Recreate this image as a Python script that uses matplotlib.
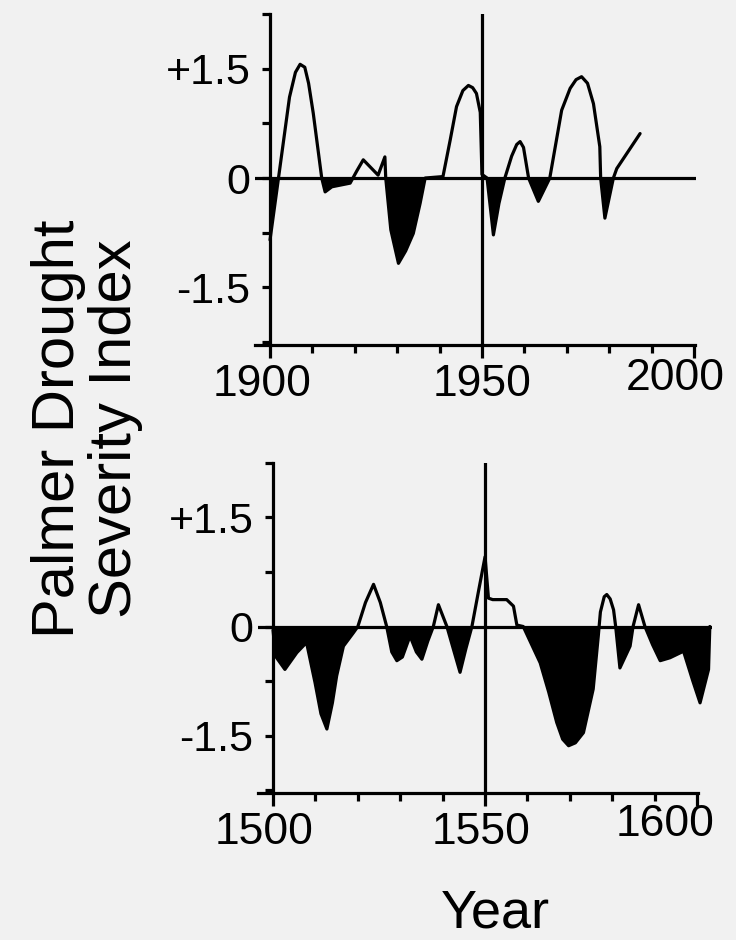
import matplotlib
matplotlib.use("Agg")
import matplotlib.pyplot as plt
import numpy as np
from matplotlib.transforms import ScaledTranslation

plt.rcParams['font.family'] = ['Liberation Sans', 'DejaVu Sans']

# PDSI reconstruction, 20th century (top panel)
top_years = [1900, 1902, 1904.6, 1906, 1907.1, 1908.2, 1909.1, 1910.2, 1912.2, 1913, 1914.6, 1918.9,
             1920.5, 1922, 1925.5, 1927.1, 1927.3, 1928.5, 1930.3, 1932, 1933.8, 1935.4, 1936.6,
             1940.8, 1942.5, 1944, 1945.5, 1946.8, 1947.8, 1948.7, 1949.6, 1950.0, 1951.2, 1952.7,
             1954, 1955.4, 1957, 1958.2, 1959, 1959.8, 1961, 1963.3, 1966, 1968.8, 1970.8, 1972.2,
             1973.5, 1974.9, 1976.3, 1977.8, 1978, 1979, 1981, 1981.8, 1987.3]
top_pdsi = [-0.85, 0.0, 1.11, 1.45, 1.56, 1.52, 1.3, 0.89, 0.0, -0.19, -0.12, -0.07,
            0.1, 0.25, 0.04, 0.29, 0.0, -0.71, -1.17, -1.0, -0.76, -0.35, 0.0,
            0.02, 0.52, 0.98, 1.2, 1.27, 1.24, 1.16, 0.9, 0.05, 0.0, -0.78,
            -0.35, 0.0, 0.3, 0.46, 0.50, 0.42, 0.0, -0.32, 0.0, 0.93, 1.23, 1.35,
            1.39, 1.3, 1.02, 0.43, 0.0, -0.55, 0.0, 0.13, 0.61]

# PDSI reconstruction, 16th century (bottom panel)
bottom_years = [1500, 1500.6, 1502.8, 1505.6, 1507.9, 1509.9, 1511.3, 1512.7, 1514, 1515,
                1516.6, 1518.9, 1520, 1521.8, 1523.7, 1525.3, 1526.8, 1528, 1529.2, 1530.5,
                1532.3, 1533.8, 1535.1, 1536.5, 1537.8, 1539, 1541, 1544.1, 1545.5, 1546.9,
                1548.5, 1550, 1550.8, 1551.8, 1555.1, 1556.7, 1557.5, 1559, 1563, 1565,
                1566.9, 1568.3, 1569.7, 1571.3, 1573.2, 1575.5, 1576.7, 1577.2, 1578.1, 1578.7,
                1579.5, 1580.3, 1580.8, 1581.8, 1584.2, 1584.9, 1586.2, 1587.7, 1589.5, 1591.3,
                1593.6, 1596.8, 1599, 1600.7, 1602.7, 1603]
bottom_pdsi = [-0.05, -0.41, -0.59, -0.36, -0.22, -0.77, -1.2, -1.41, -1.05, -0.68,
               -0.27, -0.09, 0.0, 0.33, 0.58, 0.33, 0.0, -0.35, -0.47, -0.42,
               -0.13, -0.35, -0.45, -0.2, 0.0, 0.30, 0.0, -0.63, -0.3, 0.0,
               0.5, 0.96, 0.39, 0.37, 0.37, 0.28, 0.02, 0.0, -0.50, -0.9,
               -1.32, -1.55, -1.64, -1.6, -1.46, -0.86, -0.13, 0.2, 0.41, 0.44,
               0.38, 0.23, 0.0, -0.57, -0.27, 0.0, 0.30, 0.0, -0.25, -0.47,
               -0.43, -0.34, -0.75, -1.05, -0.59, 0.0]

ytick_major = [-1.5, 0, 1.5]
ytick_labels = ["-1.5", "0", "+1.5"]
ytick_minor = [-2.25, -0.75, 0.75, 2.25]

BG = '#f1f1f1'
LW = 2.3

fig = plt.figure(figsize=(7.36, 9.4), dpi=100, facecolor=BG)


def shift(label, dx, dy):
    # nudge a tick label by pixels
    label.set_transform(label.get_transform() + ScaledTranslation(dx / 100, dy / 100, fig.dpi_scale_trans))


def draw_panel(rect, years, pdsi, start, xmax, xend):
    ax = fig.add_axes(rect)
    ax.set_facecolor(BG)
    x = np.array(years)
    y = np.array(pdsi)
    ax.fill_between(x, y, 0, where=y < 0, interpolate=True, color='black', linewidth=0)
    ax.plot(x, y, color='black', linewidth=LW, solid_joinstyle='round', solid_capstyle='round')
    ax.axhline(0, color='black', linewidth=LW)
    ax.axvline(start + 50, color='black', linewidth=LW)

    ax.set_xlim(start - 3.5, xmax)
    ax.set_ylim(-2.29, 2.25)
    for s in ['top', 'right']:
        ax.spines[s].set_visible(False)
    ax.spines['left'].set_position(('data', start))
    ax.spines['left'].set_bounds(-2.29, 2.25)
    ax.spines['bottom'].set_bounds(start - 3.5, xend)
    for s in ['left', 'bottom']:
        ax.spines[s].set_linewidth(LW)

    ax.set_xticks([start, start + 50, start + 100])
    ax.set_xticklabels([str(start), str(start + 50), str(start + 100)])
    ax.set_xticks([start + d for d in range(10, 100, 10) if d != 50], minor=True)
    ax.set_yticks(ytick_major)
    ax.set_yticklabels(ytick_labels)
    ax.set_yticks(ytick_minor, minor=True)
    ax.tick_params(axis='x', which='major', direction='out', length=9, width=LW, labelsize=32, pad=5)
    ax.tick_params(axis='x', which='minor', direction='out', length=6, width=LW)
    ax.tick_params(axis='y', which='both', direction='out', length=6, width=LW, labelsize=31, pad=8)
    return ax


top = draw_panel([0.3467, 0.633, 0.599, 0.3521], top_years, top_pdsi, 1900, 2000.5, 2000.2)
bottom = draw_panel([0.3508, 0.1564, 0.6165, 0.3511], bottom_years, bottom_pdsi, 1500, 1603.5, 1600.2)

tl = top.get_xticklabels()
shift(tl[0], -8, 0)
shift(tl[2], -19, 6)
bl = bottom.get_xticklabels()
shift(bl[0], -9, 0)
shift(bl[1], -4, 0)
shift(bl[2], -32, 8)

fig.text(0.118, 1 - 429 / 940, "Palmer Drought\nSeverity Index", rotation=90,
         ha='center', va='center', fontsize=43, linespacing=1.05)
fig.text(495 / 736, 12 / 940, "Year", ha='center', va='baseline', fontsize=39)

plt.savefig('out.png', dpi=100, facecolor=BG)
